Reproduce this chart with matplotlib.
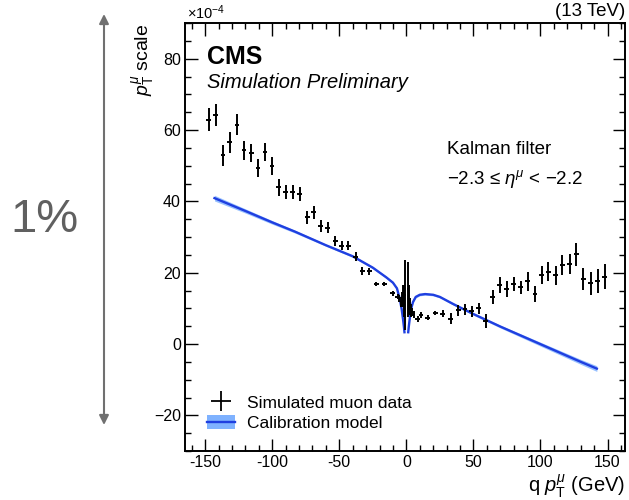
import matplotlib
matplotlib.use('Agg')
import matplotlib.pyplot as plt
from matplotlib.patches import Patch
from matplotlib.lines import Line2D
from matplotlib.ticker import MultipleLocator, FuncFormatter

plt.rcParams['font.family'] = ['Liberation Sans', 'DejaVu Sans']
plt.rcParams['mathtext.fontset'] = 'custom'
plt.rcParams['mathtext.rm'] = 'Liberation Sans'
plt.rcParams['mathtext.it'] = 'Liberation Sans:italic'

# simulated muons, q*pT (GeV) vs pT scale (x1e-4)
qpt_data = [-147.3, -142.0, -136.7, -131.7, -126.3, -121.0, -115.6, -110.6, -105.4, -100.2,
            -95.0, -89.8, -84.6, -79.4, -73.9, -69.0, -63.8, -58.6, -53.0, -48.1,
            -43.2, -37.9, -32.7, -27.5, -22.3, -16.4, -10.2, -6.5,
            -5.2, -4.3, -3.4, -2.6, -1.8, -1.0,
            1.2, 1.9, 2.6, 3.4, 4.3, 5.4,
            8.4, 10.9, 15.9, 21.6, 27.0, 33.2, 38.8, 43.7, 48.7, 54.0,
            59.3, 64.4, 69.7, 74.9, 80.0, 85.3, 90.4, 95.9, 100.8, 105.9,
            111.4, 116.4, 121.8, 126.8, 132.0, 137.4, 142.5, 147.8]
scale_data = [62.9, 64.1, 52.9, 56.5, 61.5, 54.3, 53.6, 49.4, 53.9, 49.9,
              43.9, 42.7, 42.7, 42.0, 35.5, 36.9, 33.1, 32.6, 28.9, 27.6,
              27.6, 24.5, 20.5, 20.4, 16.9, 16.9, 14.2, 13.3,
              12.8, 11.8, 12.5, 13.5, 12.0, 13.7,
              15.3, 12.5, 10.5, 9.5, 9.0, 8.2,
              7.0, 8.2, 7.4, 8.6, 8.5, 7.1, 9.4, 9.7, 9.2, 10.0,
              6.4, 13.1, 16.5, 15.4, 16.9, 15.9, 17.6, 14.1, 19.3, 20.3,
              19.3, 22.1, 22.3, 25.1, 18.2, 17.0, 17.6, 18.9]
scale_err = [3.2, 3.1, 3.0, 2.9, 3.0, 2.7, 2.6, 2.6, 2.5, 2.4,
             2.3, 2.0, 2.0, 1.9, 1.9, 1.8, 1.6, 1.5, 1.4, 1.3,
             1.3, 1.2, 1.1, 1.0, 0.6, 0.6, 0.8, 0.8,
             1.0, 1.5, 2.0, 3.0, 4.5, 9.8,
             7.7, 4.0, 2.5, 1.8, 1.2, 1.0,
             0.8, 0.8, 0.6, 0.6, 1.0, 1.6, 1.5, 1.5, 1.5, 1.6,
             2.0, 2.0, 2.2, 2.2, 2.0, 1.9, 2.6, 2.3, 2.6, 2.6,
             2.7, 2.8, 2.8, 3.2, 3.1, 3.2, 3.4, 3.5]
qpt_halfwidth = [1.8] * 28 + [0.4] * 12 + [1.8] * 28

# calibration model, negative and positive charge branches
model_qpt_neg = [-143, -120, -100, -83, -60, -40, -25, -15, -10, -7, -5, -3.5, -2.5, -1.8, -1.4]
model_scale_neg = [40.9, 37.3, 34.1, 31.5, 27.7, 24.6, 21.4, 18.7, 17.2, 15.6, 12.8, 9.8, 7.0, 4.8, 3.3]
model_band_neg = [0.8, 0.6, 0.5, 0.4, 0.3, 0.3, 0.3, 0.3, 0.3, 0.3, 0.3, 0.3, 0.3, 0.3, 0.3]
model_qpt_pos = [1.4, 1.8, 2.5, 3.5, 5, 7, 10, 14, 20, 25, 35, 50, 70, 90, 110, 130, 142]
model_scale_pos = [3.3, 4.8, 7.0, 9.8, 11.8, 13.2, 13.8, 14.0, 13.8, 13.2, 11.2, 8.4, 4.9, 1.6, -1.7, -5.0, -6.9]
model_band_pos = [0.3, 0.3, 0.3, 0.3, 0.3, 0.3, 0.3, 0.3, 0.3, 0.3, 0.3, 0.3, 0.4, 0.5, 0.6, 0.7, 0.8]

line_blue = '#1f3fe0'
band_blue = '#7fb2ff'

fig = plt.figure(figsize=(6.29, 5.0), dpi=100)
ax = fig.add_axes([185 / 629, 49 / 500, 440 / 629, 428 / 500])

for xs, ys, bs in [(model_qpt_neg, model_scale_neg, model_band_neg),
                   (model_qpt_pos, model_scale_pos, model_band_pos)]:
    lo = [y - b for y, b in zip(ys, bs)]
    hi = [y + b for y, b in zip(ys, bs)]
    ax.fill_between(xs, lo, hi, color=band_blue, lw=0, alpha=0.8, zorder=2)
    ax.plot(xs, ys, color=line_blue, lw=1.7, zorder=3)

ax.errorbar(qpt_data, scale_data, yerr=scale_err, xerr=qpt_halfwidth,
            fmt='none', ecolor='black', elinewidth=1.4, capsize=0, zorder=4)

ax.set_xlim(-165, 163)
ax.set_ylim(-30, 90)
ax.xaxis.set_major_locator(MultipleLocator(50))
ax.xaxis.set_minor_locator(MultipleLocator(10))
ax.yaxis.set_major_locator(MultipleLocator(20))
ax.yaxis.set_minor_locator(MultipleLocator(5))
ax.xaxis.set_major_formatter(FuncFormatter(lambda v, p: f'{v:.0f}'))
ax.yaxis.set_major_formatter(FuncFormatter(lambda v, p: f'{v:.0f}'.replace('-', '\u2212')))
ax.tick_params(which='both', direction='in', top=True, right=True, labelsize=11.5,
               width=1.0, colors='black')
ax.tick_params(which='major', length=9, pad=3)
ax.tick_params(which='minor', length=4.5)
for s in ax.spines.values():
    s.set_linewidth(1.4)

# labels
ax.text(0.05, 0.92, 'CMS', transform=ax.transAxes, fontsize=18, fontweight='bold', va='center')
ax.text(0.05, 0.862, 'Simulation Preliminary', transform=ax.transAxes, fontsize=14.5,
        style='italic', va='center')
ax.text(0.595, 0.705, 'Kalman filter', transform=ax.transAxes, fontsize=13.5, va='center')
ax.text(0.595, 0.635, '\u22122.3 \u2264 $\\eta^{\\mu}$ < \u22122.2', transform=ax.transAxes,
        fontsize=13.5, va='center')

fig.text(187 / 629, 1 - 13 / 500, '\u00d710$^{-4}$', fontsize=10.5, va='center', ha='left')
fig.text(625 / 629, 1 - 12 / 500, '(13 TeV)', fontsize=13.5, va='center', ha='right')
fig.text(625 / 629, 1 - 486 / 500, 'q $p_{\\mathrm{T}}^{\\mu}$ (GeV)', fontsize=14.5,
         va='center', ha='right')
fig.text(143 / 629, 1 - 24 / 500, '$p_{\\mathrm{T}}^{\\mu}$ scale', fontsize=14,
         rotation=90, va='top', ha='center')

# 1% reference arrow
ax.annotate('', xy=(104, 500 - 425), xytext=(104, 500 - 14), xycoords='figure pixels',
            textcoords='figure pixels',
            arrowprops=dict(arrowstyle='<|-|>', color='#707070', lw=1.5,
                            mutation_scale=14, shrinkA=0, shrinkB=0))
fig.text(44 / 629, 1 - 220 / 500, '1%', fontsize=34, color='#606060', va='center', ha='center')

# legend
data_handle = Line2D([], [], color='black', marker='+', markersize=14, mew=1.3, lw=0)
model_handle = (Patch(facecolor=band_blue, edgecolor='none'),
                Line2D([], [], color=line_blue, lw=1.7))
ax.legend([data_handle, model_handle], ['Simulated muon data', 'Calibration model'],
          loc='lower left', bbox_to_anchor=(0.035, 0.03), frameon=False, fontsize=12.5,
          handlelength=1.6, handleheight=0.9, labelspacing=0.25, borderaxespad=0,
          handletextpad=0.7)

fig.savefig('out.png', dpi=100)
